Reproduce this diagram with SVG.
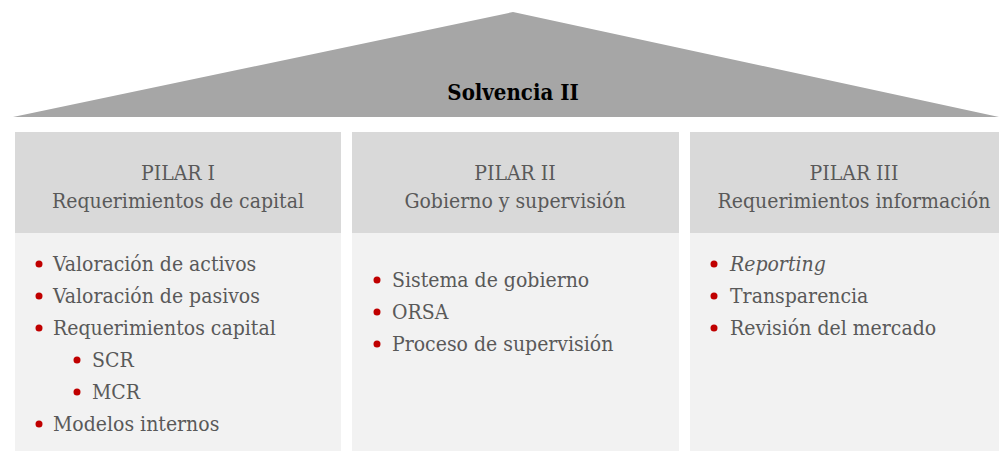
<svg xmlns="http://www.w3.org/2000/svg" width="999" height="451" viewBox="0 0 999 451">
<style>
.hdr{fill:#d9d9d9}
.body{fill:#f2f2f2}
.t{font-family:"DejaVu Serif Condensed","DejaVu Serif",serif;font-stretch:condensed;font-size:21px;fill:#595959}
.h{text-anchor:middle}
.b{fill:#c00000}
.title{font-family:"DejaVu Serif Condensed","DejaVu Serif",serif;font-stretch:condensed;font-size:22px;font-weight:bold;fill:#000;text-anchor:middle}
</style>
<rect width="999" height="451" fill="#fff"/>
<g id="roof">
<polygon points="13,117 513,12 999,117" fill="#a6a6a6"/>
<text class="title" x="513" y="100">Solvencia II</text>
</g>
<g id="pilar1">
<rect class="hdr" x="15" y="132" width="326" height="101"/>
<rect class="body" x="15" y="233" width="326" height="218"/>
<text class="t h" x="178" y="180">PILAR I</text>
<text class="t h" x="178" y="208">Requerimientos de capital</text>
<circle class="b" cx="39" cy="264" r="3.5"/><text class="t" x="53" y="271">Valoración de activos</text>
<circle class="b" cx="39" cy="296" r="3.5"/><text class="t" x="53" y="303">Valoración de pasivos</text>
<circle class="b" cx="39" cy="328" r="3.5"/><text class="t" x="53" y="335">Requerimientos capital</text>
<circle class="b" cx="77" cy="360" r="3.5"/><text class="t" x="92" y="367">SCR</text>
<circle class="b" cx="77" cy="392" r="3.5"/><text class="t" x="92" y="399">MCR</text>
<circle class="b" cx="39" cy="424" r="3.5"/><text class="t" x="53" y="431">Modelos internos</text>
</g>
<g id="pilar2">
<rect class="hdr" x="352" y="132" width="327" height="101"/>
<rect class="body" x="352" y="233" width="327" height="218"/>
<text class="t h" x="515" y="180">PILAR II</text>
<text class="t h" x="515" y="208">Gobierno y supervisión</text>
<circle class="b" cx="377" cy="280" r="3.5"/><text class="t" x="392" y="287">Sistema de gobierno</text>
<circle class="b" cx="377" cy="312" r="3.5"/><text class="t" x="392" y="319">ORSA</text>
<circle class="b" cx="377" cy="344" r="3.5"/><text class="t" x="392" y="351">Proceso de supervisión</text>
</g>
<g id="pilar3">
<rect class="hdr" x="690" y="132" width="326" height="101"/>
<rect class="body" x="690" y="233" width="326" height="218"/>
<text class="t h" x="854" y="180">PILAR III</text>
<text class="t h" x="854" y="208">Requerimientos información</text>
<circle class="b" cx="714" cy="264" r="3.5"/><text class="t" x="730" y="271" font-style="italic">Reporting</text>
<circle class="b" cx="714" cy="296" r="3.5"/><text class="t" x="730" y="303">Transparencia</text>
<circle class="b" cx="714" cy="328" r="3.5"/><text class="t" x="730" y="335">Revisión del mercado</text>
</g>
<g id="connectors"/>
</svg>
